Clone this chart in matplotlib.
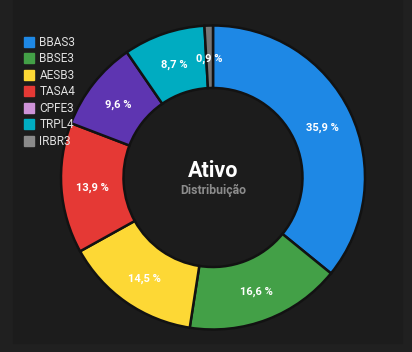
import matplotlib.pyplot as plt
from matplotlib.lines import Line2D
import numpy as np

plt.rcParams['font.family'] = ['Roboto', 'DejaVu Sans']

# dados
ativos = ["BBAS3", "BBSE3", "AESB3", "TASA4", "CPFE3", "TRPL4", "IRBR3"]
valores = [35.9, 16.6, 14.5, 13.9, 9.6, 8.7, 0.9]
cores_fatia = ["#1E88E5", "#43A047", "#FDD835", "#E53935", "#5E35B1", "#00ACC1", "#757575"]
cores_legenda = ["#1E88E5", "#43A047", "#FDD835", "#E53935", "#CE93D8", "#00ACC1", "#8A8A8A"]

fundo = "#1c1c1c"
fig = plt.figure(figsize=(4.12, 3.52), dpi=100, facecolor="#202020")
ax = fig.add_axes([0, 0, 1, 1])
ax.add_patch(plt.Rectangle((13, 9), 389, 343, color=fundo, zorder=0))

cx, cy, R, w = 213, 352 - 177.5, 152, 62.5
wedges, _ = ax.pie(valores, colors=cores_fatia, startangle=90, counterclock=False,
                   radius=R, center=(cx, cy), frame=True,
                   wedgeprops=dict(width=w, edgecolor="#121212", linewidth=1.8))
ax.set_xlim(0, 412)
ax.set_ylim(0, 352)
ax.set_aspect("equal")
ax.axis("off")

# rotulos nas fatias
total = sum(valores)
acum = 0
for v in valores:
    ang = np.deg2rad(90 - (acum + v / 2) / total * 360)
    acum += v
    r = R - w / 2
    txt = f"{v:.1f}".replace(".", ",") + " %"
    ax.text(cx + r * np.cos(ang), cy + r * np.sin(ang) - 2, txt, color="white",
            fontsize=8, fontweight="bold", ha="center", va="center")

# texto central
ax.text(213.5, 352 - 171, "Ativo", color="white", fontsize=15.5,
        fontweight="bold", ha="center", va="center")
ax.text(213, 352 - 190, "Distribuição", color="#8c8c8c", fontsize=8.8,
        fontweight="bold", ha="center", va="center")

# legenda
handles = [Line2D([], [], marker="s", linestyle="", markersize=7,
                  markerfacecolor=c, markeredgecolor=c) for c in cores_legenda]
leg = ax.legend(handles, ativos, loc="upper left", bbox_to_anchor=(20 / 412, 1 - 31 / 352),
                frameon=False, fontsize=8.5, labelcolor="#e0e0e0", handlelength=0.8,
                handletextpad=0.45, labelspacing=0.3, borderaxespad=0)

plt.savefig("out.png", dpi=100, facecolor=fig.get_facecolor())
